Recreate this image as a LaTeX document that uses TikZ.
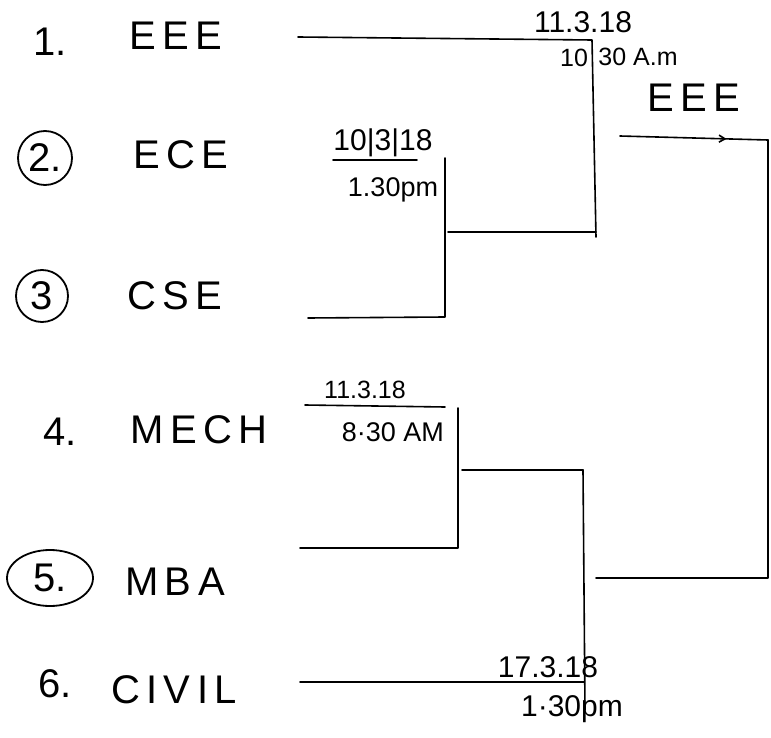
\documentclass[tikz,border=0pt]{standalone}
\usepackage{fontspec}
\setmainfont{Liberation Sans}
\usetikzlibrary{decorations.markings,arrows.meta}
\begin{document}
\begin{tikzpicture}[x=1pt,y=-1pt,
  team/.style={inner sep=0pt,font=\fontsize{40}{40}\selectfont\addfontfeature{LetterSpace=16}},
  num/.style={inner sep=0pt,font=\fontsize{40}{40}\selectfont},
  datebig/.style={inner sep=0pt,font=\fontsize{30}{30}\selectfont},
  datemid/.style={inner sep=0pt,font=\fontsize{27}{27}\selectfont},
  datesmall/.style={inner sep=0pt,font=\fontsize{25}{25}\selectfont},
  wire/.style={line width=1.6pt,line cap=round,line join=round},
  ring/.style={line width=1.8pt}]
\useasboundingbox (0,0) rectangle (771,738);
% team names
\node[num] (n1) at (50,42) {1.};
\node[team] (t1) at (176,36) {EEE};
\node[num] (n2) at (45,158) {2.};
\node[team] (t2) at (181,155) {ECE};
\node[num] (n3) at (42,296) {3};
\node[team] (t3) at (175,296) {CSE};
\node[num] (n4) at (60,432) {4.};
\node[team] (t4) at (199,430) {MECH};
\node[num] (n5) at (50,578) {5.};
\node[team] (t5) at (175,582) {MBA};
\node[num] (n6) at (55,684) {6.};
\node[team] (t6) at (174,690) {CIVIL};
\node[team] (win) at (694,98) {EEE};
% circles
\draw[ring] (n2) circle[radius=27];
\draw[ring] (n3) circle[radius=26];
\draw[ring] (n5) ellipse[x radius=43,y radius=28];
% dates
\node[datebig] (d1) at (583,22) {11.3.18};
\node[datesmall] (d1a) at (574,58) {10};
\node[datesmall] (d1b) at (638,57) {30 A.m};
\node[datebig] (d2) at (383,143) {10|3|18};
\node[datemid] (d2a) at (393,190) {1.30pm};
\node[datesmall] (d3) at (365,390) {11.3.18};
\node[datemid] (d3a) at (393,432) {8·30 AM};
\node[datebig] (d4) at (548,667) {17.3.18};
\node[datebig] (d4a) at (572,709) {1·30pm};
% coordinates
\coordinate (a1) at (298,37);
\coordinate (a2) at (592,40);
\coordinate (a3) at (596,237);
\coordinate (b0) at (333,160);
\coordinate (b0e) at (417,160);
\coordinate (b1) at (445,158);
\coordinate (b2) at (445,317);
\coordinate (b3) at (308,318);
\coordinate (b4) at (448,232);
\coordinate (b5) at (596,232);
\coordinate (c1) at (620,136);
\coordinate (c2) at (768,140);
\coordinate (c3) at (768,578);
\coordinate (c4) at (596,578);
\coordinate (m0) at (305,405);
\coordinate (m0e) at (445,407);
\coordinate (m1) at (458,408);
\coordinate (m2) at (458,548);
\coordinate (m3) at (300,548);
\coordinate (m4) at (462,470);
\coordinate (m5) at (583,470);
\coordinate (m6) at (585,710);
\coordinate (v1) at (300,682);
\coordinate (v2) at (584,682);
% connectors
\draw[wire] (a1) -- (a2) -- (a3);
\draw[wire] (b0) -- (b0e);
\draw[wire] (b3) -- (b2) -- (b1);
\draw[wire] (b4) -- (b5);
\draw[wire,postaction={decorate},decoration={markings,mark=at position 0.72 with {\arrow{Straight Barb[length=6pt,width=7pt]}}}] (c1) -- (c2);
\draw[wire] (c2) -- (c3) -- (c4);
\draw[wire] (m0) -- (m0e);
\draw[wire] (m3) -- (m2) -- (m1);
\draw[wire] (m4) -- (m5);
\draw[wire] (m5) -- (m6);
\draw[wire] (v1) -- (v2);
\end{tikzpicture}
\end{document}
